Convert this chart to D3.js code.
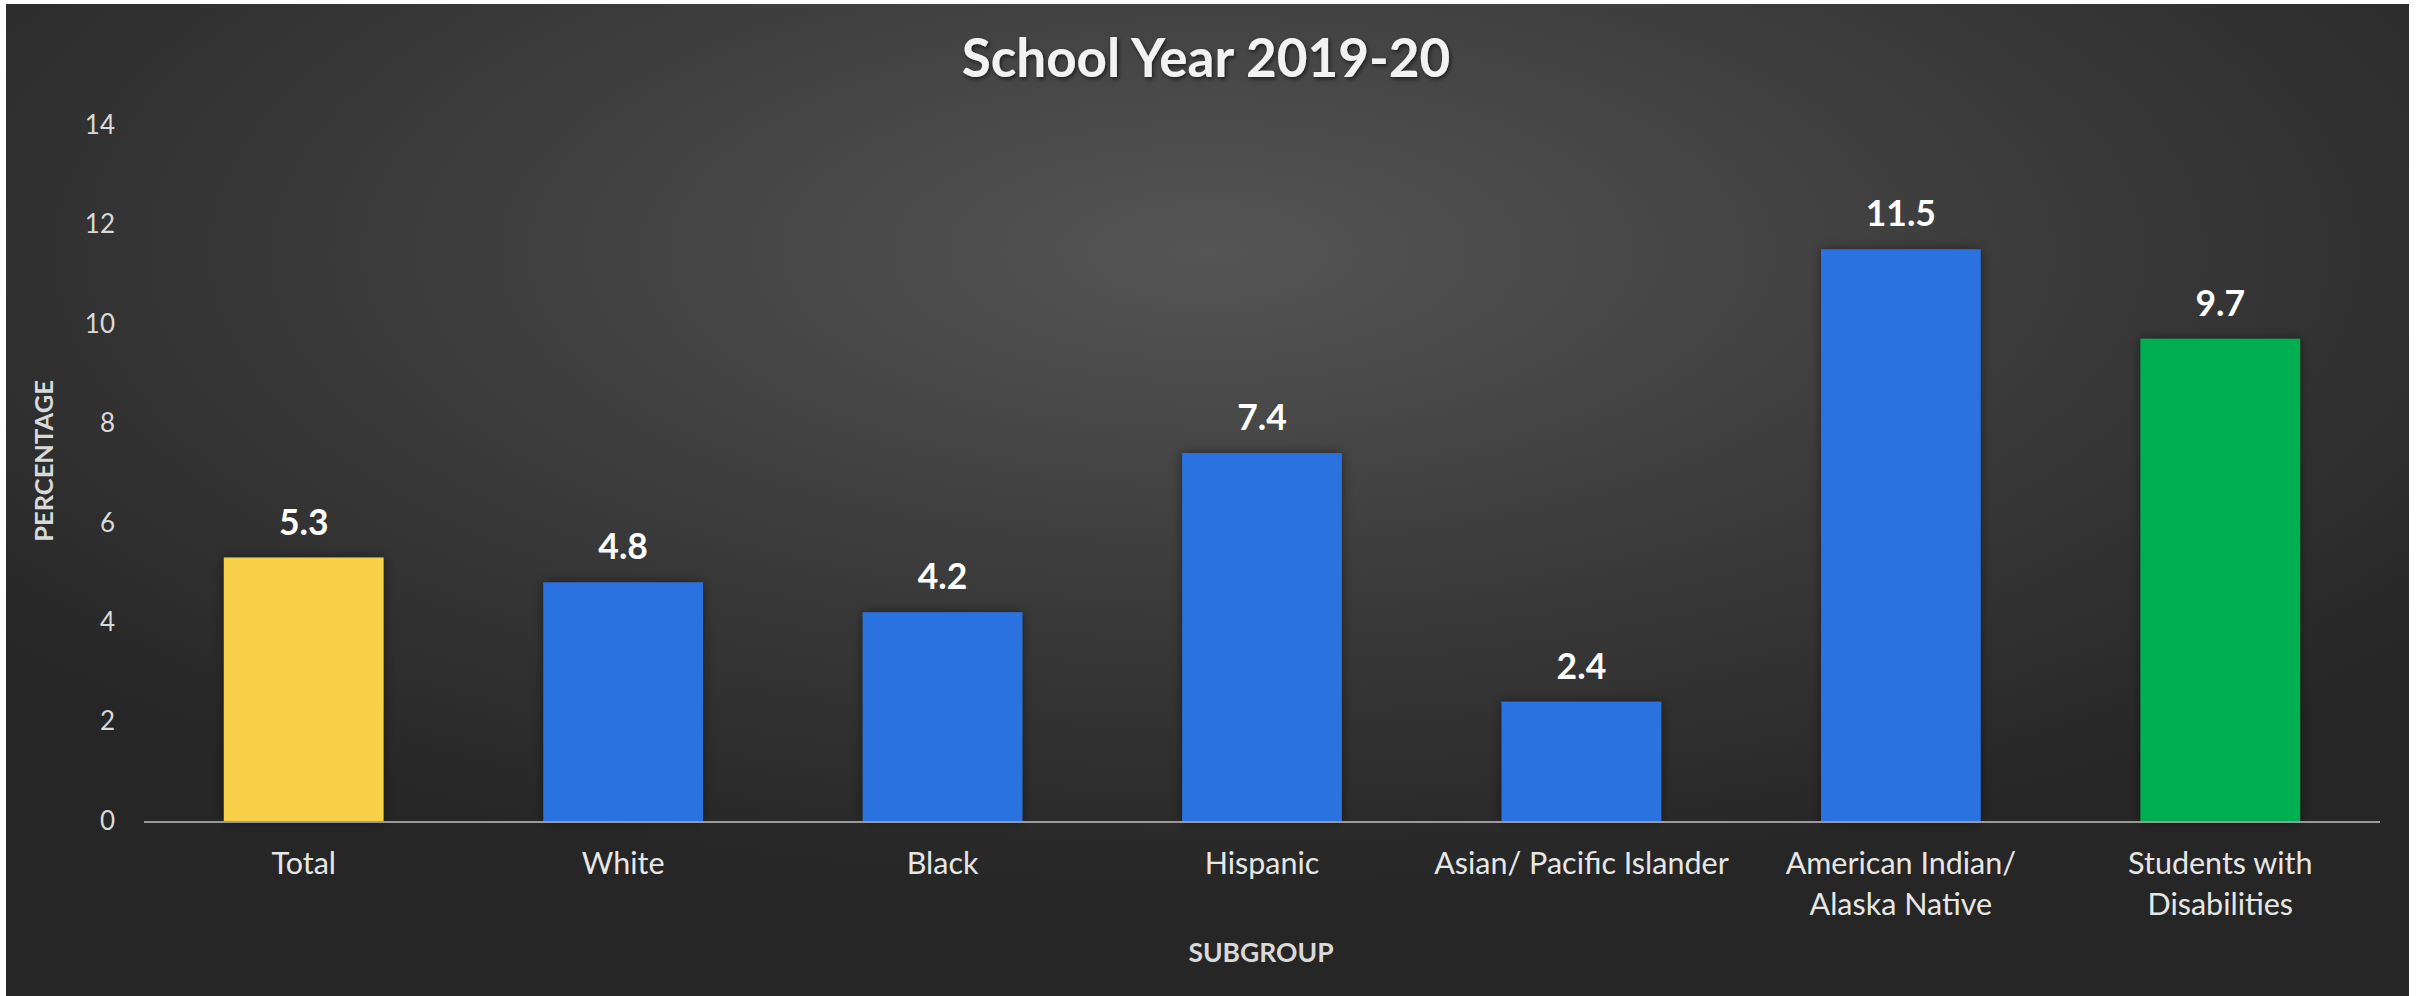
<!DOCTYPE html>
<html>
<head>
<meta charset="utf-8">
<script src="https://cdn.jsdelivr.net/npm/d3@7"></script>
<style>
  html, body { margin: 0; padding: 0; background: #ffffff; }
  svg { display: block; }
</style>
</head>
<body>
<svg id="chart" width="2420" height="996"></svg>
<script>
const categories = ["Total", "White", "Black", "Hispanic", "Asian/ Pacific Islander", "American Indian/ Alaska Native", "Students with Disabilities"];
const tickLabels = [["Total"], ["White"], ["Black"], ["Hispanic"], ["Asian/ Pacific Islander"], ["American Indian/", "Alaska Native"], ["Students with", "Disabilities"]];
const values = [5.3, 4.8, 4.2, 7.4, 2.4, 11.5, 9.7];
const barColors = ["#F9D14A", "#2A72E0", "#2A72E0", "#2A72E0", "#2A72E0", "#2A72E0", "#00AF50"];
const yTicks = [0, 2, 4, 6, 8, 10, 12, 14];
const title = "School Year 2019-20";
const xTitle = "SUBGROUP";
const yTitle = "PERCENTAGE";

const svg = d3.select("#chart");
const defs = svg.append("defs");

const grad = defs.append("radialGradient")
  .attr("id", "bg").attr("cx", "50%").attr("cy", "25%").attr("r", "65%")
  .attr("fx", "50%").attr("fy", "25%");
grad.append("stop").attr("offset", "0%").attr("stop-color", "#555555");
grad.append("stop").attr("offset", "55%").attr("stop-color", "#3a3a3a");
grad.append("stop").attr("offset", "100%").attr("stop-color", "#262626");

const barShadow = defs.append("filter").attr("id", "barShadow")
  .attr("x", "-20%").attr("y", "-10%").attr("width", "140%").attr("height", "120%");
barShadow.append("feDropShadow").attr("dx", 0).attr("dy", 0).attr("stdDeviation", 6)
  .attr("flood-color", "#000").attr("flood-opacity", 0.45);

const textShadow = defs.append("filter").attr("id", "textShadow")
  .attr("x", "-10%").attr("y", "-30%").attr("width", "120%").attr("height", "160%");
textShadow.append("feDropShadow").attr("dx", 1.5).attr("dy", 2).attr("stdDeviation", 2)
  .attr("flood-color", "#000").attr("flood-opacity", 0.6);

// background
svg.append("rect").attr("x", 6).attr("y", 4).attr("width", 2403).attr("height", 992)
  .attr("fill", "url(#bg)");

const x0 = 144, x1 = 2380, yBase = 821, yTop = 125;
const x = d3.scaleBand().domain(categories).range([x0, x1]).paddingInner(0.5).paddingOuter(0.25);
const y = d3.scaleLinear().domain([0, 14]).range([yBase, yTop]);

// bars
svg.append("g").selectAll("rect").data(categories).join("rect")
  .attr("x", d => x(d))
  .attr("y", (d, i) => y(values[i]))
  .attr("width", x.bandwidth())
  .attr("height", (d, i) => y(0) - y(values[i]))
  .attr("fill", (d, i) => barColors[i])
  .attr("filter", "url(#barShadow)");

// x axis line
svg.append("line").attr("x1", x0).attr("x2", x1).attr("y1", y(0) + 1).attr("y2", y(0) + 1)
  .attr("stroke", "#9a9a9a").attr("stroke-width", 2.2);

// y axis
const yAxis = svg.append("g").attr("transform", `translate(${x0},0)`)
  .call(d3.axisLeft(y).tickValues(yTicks).tickSize(0).tickPadding(29));
yAxis.select(".domain").remove();
yAxis.selectAll("text").attr("font-family", "Lato, 'Open Sans', sans-serif")
  .attr("font-size", 26).attr("fill", "#d9d9d9");

// x axis labels
const xAxis = svg.append("g").attr("transform", `translate(0,${yBase})`)
  .call(d3.axisBottom(x).tickSize(0).tickFormat(""));
xAxis.select(".domain").remove();
xAxis.selectAll(".tick").each(function(d, i) {
  const t = d3.select(this).append("text")
    .attr("font-family", "Lato, 'Open Sans', sans-serif")
    .attr("font-size", 30.5).attr("fill", "#e6e6e6").attr("text-anchor", "middle");
  tickLabels[i].forEach((line, k) => {
    t.append("tspan").attr("x", 0).attr("y", 53 + k * 41).text(line);
  });
});

// value labels
svg.append("g").selectAll("text").data(categories).join("text")
  .attr("x", d => x(d) + x.bandwidth() / 2)
  .attr("y", (d, i) => y(values[i]) - 23)
  .attr("text-anchor", "middle")
  .attr("font-family", "Lato, 'Open Sans', sans-serif")
  .attr("font-weight", 700).attr("font-size", 35.5).attr("fill", "#ffffff")
  .text((d, i) => values[i].toFixed(1));

// title
svg.append("text").attr("x", 1206).attr("y", 77).attr("text-anchor", "middle")
  .attr("font-family", "Lato, 'Open Sans', sans-serif")
  .attr("font-weight", 700).attr("font-size", 53).attr("fill", "#f2f2f2")
  .attr("filter", "url(#textShadow)")
  .text(title);

// axis titles
svg.append("text").attr("x", 1261).attr("y", 962).attr("text-anchor", "middle")
  .attr("font-family", "Lato, 'Open Sans', sans-serif")
  .attr("font-weight", 700).attr("font-size", 26.5).attr("fill", "#d9d9d9")
  .text(xTitle);

svg.append("text").attr("transform", "translate(53,461) rotate(-90)").attr("text-anchor", "middle")
  .attr("font-family", "Lato, 'Open Sans', sans-serif")
  .attr("font-weight", 700).attr("font-size", 25.5).attr("fill", "#d9d9d9")
  .text(yTitle);
</script>
</body>
</html>
